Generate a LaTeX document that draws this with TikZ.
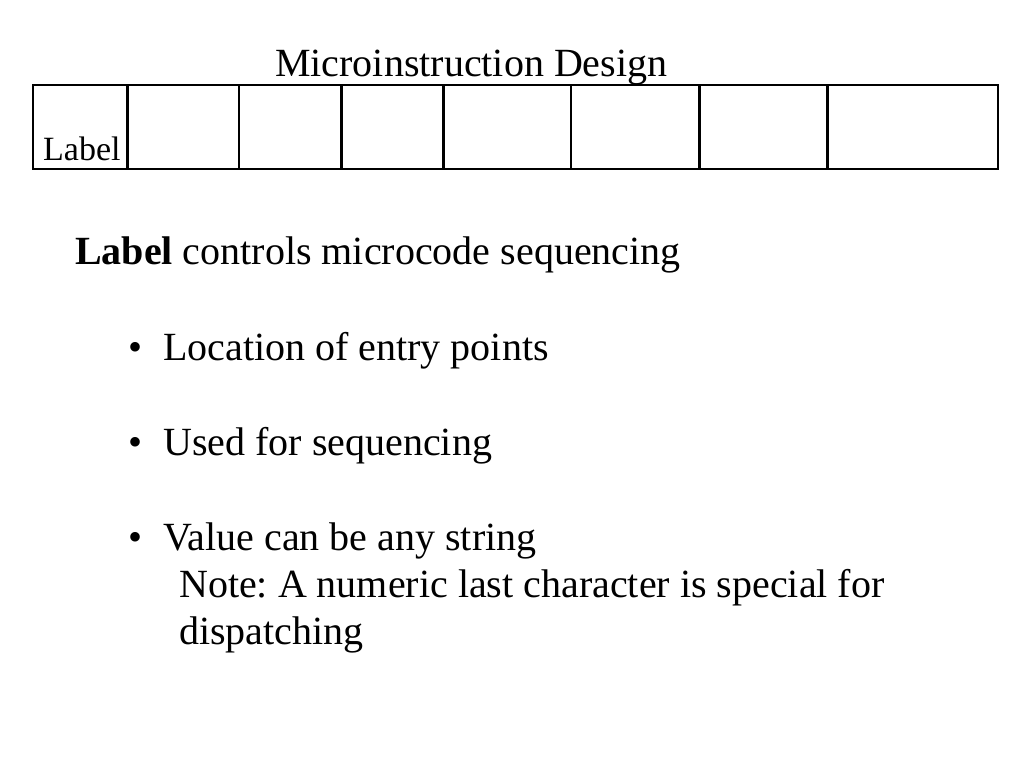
\documentclass[tikz,border=0pt]{standalone}
\usepackage{fontspec}
\setmainfont{Liberation Serif}
\frenchspacing
\begin{document}
\begin{tikzpicture}[x=1pt,y=-1pt,
  cell/.style={draw=black,line width=2.8pt,rectangle,inner sep=0pt,minimum height=84pt},
  txt/.style={anchor=base west,inner sep=0pt,font=\fontsize{40}{48}\selectfont},
  smalltxt/.style={anchor=base west,inner sep=0pt,font=\fontsize{34}{40}\selectfont}]
\useasboundingbox[fill=white] (0,0) rectangle (1024,768);
% title
\node[txt] (title) at (275,77) {Microinstruction Design};
% microinstruction fields
\foreach \name/\xa/\xb in {c1/33/127.5, c2/127.5/239, c3/239/341.7, c4/341.7/443.5, c5/443.5/571, c6/571/699.5, c7/699.5/827.5, c8/827.5/998}{
  \node[cell,minimum width={\xb-\xa}] (\name) at ({(\xa+\xb)/2},127) {};
}
\node[smalltxt] (lab) at (43,160.5) {Label};
% body text
\node[txt] (head) at (75,264) {\textbf{Label} controls microcode sequencing};
\node[txt] (b1) at (128,360) {•};
\node[txt] (t1) at (163,360) {Location of entry points};
\node[txt] (b2) at (128,455) {•};
\node[txt] (t2) at (163,455) {Used for sequencing};
\node[txt] (b3) at (128,550) {•};
\node[txt] (t3) at (163,550) {Value can be any string};
\node[txt] (n1) at (179,597) {Note: A numeric last character is special for};
\node[txt] (n2) at (179,644) {dispatching};
\end{tikzpicture}
\end{document}
